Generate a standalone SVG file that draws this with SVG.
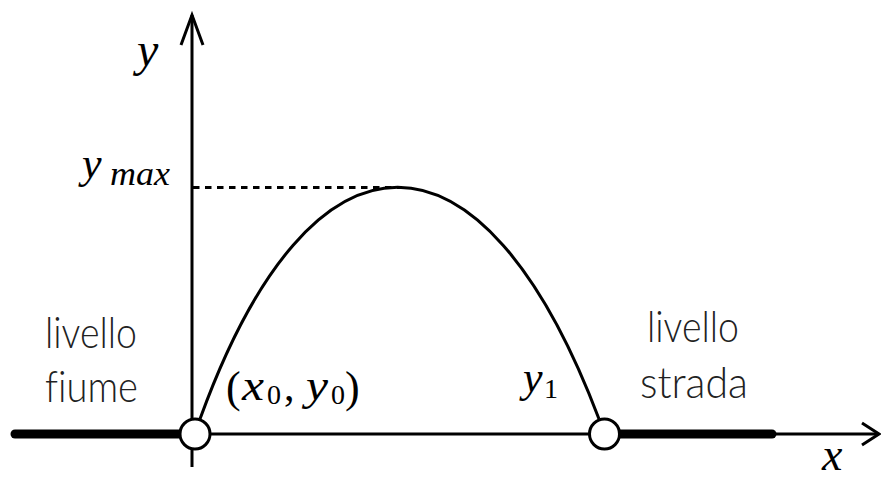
<svg xmlns="http://www.w3.org/2000/svg" width="881" height="479" viewBox="0 0 881 479">
<style>
.ax{stroke:#000;stroke-width:3;fill:none}
.thick{stroke:#000;stroke-width:9;stroke-linecap:round;fill:none}
.pt{stroke:#000;stroke-width:3;fill:#fff}
.m{font-family:"Liberation Serif",serif;font-style:italic;fill:#000}
.r{font-family:"Liberation Serif",serif;fill:#000}
.s{font-family:"Lato","Liberation Sans",sans-serif;font-weight:300;fill:#222;font-variant-ligatures:none}
</style>
<rect width="881" height="479" fill="#fff"/>
<g id="connectors">
<line class="thick" x1="15" y1="434" x2="192" y2="434"/>
<line class="thick" x1="604" y1="434" x2="772" y2="434"/>
<line class="ax" x1="192" y1="434" x2="879" y2="434"/>
<polyline class="ax" points="862,423 879,434 862,445"/>
<line class="ax" x1="192" y1="467" x2="192" y2="15"/>
<polyline class="ax" points="181,45 192,15 203,45"/>
<line class="ax" x1="193" y1="187.5" x2="402" y2="187.5" stroke-dasharray="6.5 5.5"/>
<path class="ax" d="M200,419 C312,110 482,110 599,419"/>
</g>
<g id="p0"><circle class="pt" cx="195" cy="434" r="15"/></g>
<g id="p1"><circle class="pt" cx="604.5" cy="434" r="15"/></g>
<g id="label-y"><text class="m" x="137" y="66" font-size="48">y</text></g>
<g id="label-x"><text class="m" x="822" y="470" font-size="46">x</text></g>
<g id="label-ymax"><text class="m" x="82" y="178" font-size="44">y</text><text class="m" x="110" y="185" font-size="34" textLength="60" lengthAdjust="spacingAndGlyphs">max</text></g>
<g id="label-x0y0">
<text class="r" x="226" y="402" font-size="44">(</text>
<text class="m" x="242" y="400" font-size="44" textLength="22" lengthAdjust="spacingAndGlyphs">x</text>
<text class="r" x="267" y="404" font-size="28">0</text>
<text class="r" x="284" y="400" font-size="42">,</text>
<text class="m" x="306" y="400" font-size="44" textLength="22" lengthAdjust="spacingAndGlyphs">y</text>
<text class="r" x="331" y="404" font-size="28">0</text>
<text class="r" x="345" y="402" font-size="44">)</text>
</g>
<g id="label-y1"><text class="m" x="523" y="392" font-size="44">y</text><text class="r" x="544" y="398" font-size="28">1</text></g>
<g id="label-fiume"><text class="s" x="45" y="348" font-size="44" textLength="92" lengthAdjust="spacingAndGlyphs">livello</text><text class="s" x="45" y="402" font-size="44" textLength="93" lengthAdjust="spacingAndGlyphs">fiume</text></g>
<g id="label-strada"><text class="s" x="647" y="342" font-size="44" textLength="92" lengthAdjust="spacingAndGlyphs">livello</text><text class="s" x="640" y="398" font-size="44" textLength="108" lengthAdjust="spacingAndGlyphs">strada</text></g>
</svg>
